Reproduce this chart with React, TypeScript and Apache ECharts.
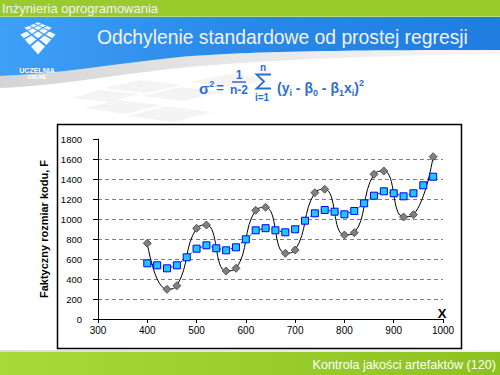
import React, { useEffect, useRef } from "react";
import * as echarts from "echarts";

// ---- data ----
const actualX = [400, 440, 460, 500, 520, 560, 580, 620, 640, 680, 700, 740, 760, 800, 820, 860, 880, 920, 940, 980];
const actualY = [757, 297, 333, 907, 940, 480, 507, 1087, 1117, 657, 690, 1263, 1297, 840, 863, 1447, 1480, 1020, 1043, 1623];
const fitX = [400, 420, 440, 460, 480, 500, 520, 540, 560, 580, 600, 620, 640, 660, 680, 700, 720, 740, 760, 780, 800, 820, 840, 860, 880, 900, 920, 940, 960, 980];
const fitY = [557, 537, 507, 537, 617, 703, 737, 707, 687, 717, 797, 887, 908, 887, 867, 897, 983, 1057, 1090, 1073, 1047, 1080, 1157, 1233, 1277, 1257, 1227, 1257, 1337, 1423];
const xMin = 300, xMax = 1000, xStep = 100;
const yMin = 0, yMax = 1800, yStep = 200;

// ---- texts ----
const headerText = "Inżynieria oprogramowania";
const titleText = "Odchylenie standardowe od prostej regresji";
const footerText = "Kontrola jakości artefaktów (120)";
const yAxisName = "Faktyczny rozmiar kodu, F";
const xAxisName = "X";

const FONT = "'Liberation Sans', Arial, sans-serif";
const FORMULA = "#2d6cd4";

function logoTiles() {
  const proj = (u: number, v: number) => {
    const t = (u + v) / 8;
    const z = 1 + 2 * (1 - t);
    return [38 + ((u - v) * 11) / z, 4.5 + 52.5 / z];
  };
  const g = 0.1;
  const out: any[] = [];
  for (let i = 0; i < 4; i++) {
    for (let j = 0; j < 4; j++) {
      if ((i === 0 && j === 3) || (i === 3 && j === 0)) continue;
      const pts = [
        proj(i + g, j + g),
        proj(i + 1 - g, j + g),
        proj(i + 1 - g, j + 1 - g),
        proj(i + g, j + 1 - g),
      ];
      out.push({ type: "polygon", shape: { points: pts }, style: { fill: "#ffffff", opacity: 0.95 }, z: -70 });
    }
  }
  return out;
}

export default function App() {
  const ref = useRef<HTMLDivElement>(null);
  useEffect(() => {
    document.body.style.margin = "0";
    if (!ref.current) return;
    echarts.graphic.registerShape(
      "blueBand",
      echarts.graphic.extendPath("M0 17 L500 17 L500 50 C400 50 260 50 180 57 C120 63 60 74 0 76 Z", {})
    );
    echarts.graphic.registerShape(
      "graySwoosh",
      echarts.graphic.extendPath("M0 76 C60 74 120 63 180 57 C260 50 400 50 500 50 L500 54 C400 55 300 58 200 66 C130 72 60 86 0 88 Z", {})
    );
    const chart = echarts.init(ref.current, undefined, { renderer: "svg" });

    const faintTiles = [
      [[72, 98], [100, 90], [138, 94], [110, 102]],
      [[104, 88], [140, 80], [182, 85], [146, 93]],
      [[142, 96], [180, 87], [222, 92], [184, 101]],
      [[84, 108], [118, 100], [160, 105], [126, 114]],
      [[128, 116], [166, 106], [212, 112], [174, 122]],
      [[190, 82], [230, 74], [270, 79], [232, 88]],
    ].map((pts) => ({ type: "polygon", shape: { points: pts }, style: { fill: "#f4f4f4" }, z: -95 }));

    const graphic: any[] = [
      { type: "rect", shape: { x: 0, y: 0, width: 500, height: 375 }, style: { fill: "#ffffff" }, z: -100 },
      ...faintTiles,
      {
        type: "graySwoosh",
        style: {
          fill: { type: "linear", x: 0, y: 0, x2: 1, y2: 0, colorStops: [
            { offset: 0, color: "#d4d4d4" }, { offset: 0.5, color: "#e8e8e8" }, { offset: 1, color: "#f6f6f6" } ] },
        },
        z: -90,
      },
      {
        type: "blueBand",
        style: {
          fill: { type: "linear", x: 0, y: 0, x2: 1, y2: 0, colorStops: [
            { offset: 0, color: "#3fa0f8" }, { offset: 0.45, color: "#2a8ae8" }, { offset: 1, color: "#1f7de0" } ] },
        },
        z: -85,
      },
      { type: "rect", shape: { x: 0, y: 0, width: 500, height: 17 }, style: { fill: "#9acb2d" }, z: -80 },
      { type: "rect", shape: { x: 0, y: 16, width: 500, height: 1 }, style: { fill: "#b9dd72" }, z: -79 },
      ...logoTiles(),
      { type: "text", x: 37, y: 70, style: { text: "UCZELNIA", fill: "#ffffff", font: `bold 7px ${FONT}`, align: "center", verticalAlign: "middle" }, z: -60 },
      { type: "text", x: 37, y: 77, style: { text: "ONLINE", fill: "#ffffff", font: `bold 5px ${FONT}`, align: "center", verticalAlign: "middle" }, z: -60 },
      { type: "text", x: 2, y: 8.5, style: { text: headerText, fill: "#f4f4f4", font: `13px ${FONT}`, verticalAlign: "middle" }, z: -60 },
      { type: "text", x: 97, y: 37, style: { text: titleText, fill: "#f2f2f2", font: `19.3px ${FONT}`, verticalAlign: "middle" }, z: -60 },
      // formula
      {
        type: "text", x: 199, y: 88,
        style: {
          text: "σ{sup|2}", fill: FORMULA, font: `bold 15px ${FONT}`, verticalAlign: "middle",
          rich: { sup: { fontSize: 9, fontWeight: "bold", fill: FORMULA, verticalAlign: "top", lineHeight: 17 } },
        },
        z: -60,
      },
      { type: "text", x: 220, y: 87, style: { text: "=", fill: FORMULA, font: `bold 13px ${FONT}`, align: "center", verticalAlign: "middle" }, z: -60 },
      { type: "text", x: 239, y: 74.5, style: { text: "1", fill: FORMULA, font: `bold 12px ${FONT}`, align: "center", verticalAlign: "middle" }, z: -60 },
      { type: "line", shape: { x1: 232, y1: 82, x2: 246, y2: 82 }, style: { stroke: FORMULA, lineWidth: 1.5 }, z: -60 },
      { type: "text", x: 239, y: 89.5, style: { text: "n-2", fill: FORMULA, font: `bold 12px ${FONT}`, align: "center", verticalAlign: "middle" }, z: -60 },
      {
        type: "polyline",
        shape: { points: [[271, 74.5], [256.5, 74.5], [264, 81.5], [256.5, 88.5], [271, 88.5]] },
        style: { stroke: FORMULA, lineWidth: 1.8, fill: null, lineJoin: "miter" },
        z: -60,
      },
      { type: "text", x: 263, y: 67.5, style: { text: "n", fill: FORMULA, font: `bold 10px ${FONT}`, align: "center", verticalAlign: "middle" }, z: -60 },
      { type: "text", x: 262, y: 97.5, style: { text: "i=1", fill: FORMULA, font: `bold 10px ${FONT}`, align: "center", verticalAlign: "middle" }, z: -60 },
      {
        type: "text", x: 277, y: 88,
        style: {
          text: "(y{sub|i} - β{sub|0} - β{sub|1}x{sub|i}){sup|2}", fill: FORMULA, font: `bold 14px ${FONT}`, verticalAlign: "middle",
          rich: {
            sub: { fontSize: 9, fontWeight: "bold", fill: FORMULA, verticalAlign: "bottom", lineHeight: 19 },
            sup: { fontSize: 9, fontWeight: "bold", fill: FORMULA, verticalAlign: "top", lineHeight: 19 },
          },
        },
        z: -60,
      },
      // chart box
      { type: "rect", shape: { x: 57.5, y: 124.5, width: 404, height: 224 }, style: { fill: "#ffffff", stroke: "#000000", lineWidth: 1.5 }, z: -50 },
      // footer
      { type: "rect", shape: { x: 0, y: 350, width: 500, height: 3 }, style: { fill: { type: "linear", x: 0, y: 0, x2: 1, y2: 0, colorStops: [{ offset: 0, color: "#dcdcdc" }, { offset: 1, color: "#f4f4f4" }] } }, z: -50 },
      { type: "rect", shape: { x: 0, y: 352, width: 500, height: 23 }, style: { fill: { type: "linear", x: 0, y: 0, x2: 1, y2: 0, colorStops: [{ offset: 0, color: "#a8da3a" }, { offset: 1, color: "#8cc21f" }] } }, z: -50 },
      { type: "text", x: 496, y: 365, style: { text: footerText, fill: "#ffffff", font: `12.6px ${FONT}`, align: "right", verticalAlign: "middle" }, z: -40 },
      { type: "text", x: 442, y: 313, style: { text: xAxisName, fill: "#000000", font: `bold 13px ${FONT}`, align: "center", verticalAlign: "middle" }, z: 50 },
    ];

    const plain = (v: number) => String(v);

    chart.setOption({
      animation: false,
      graphic: { elements: graphic },
      grid: { left: 98, right: 57, top: 139, bottom: 56, containLabel: false },
      xAxis: {
        type: "value", min: xMin, max: xMax, interval: xStep,
        axisLine: { show: true, onZero: false, lineStyle: { color: "#000", width: 1 } },
        axisTick: { show: true, length: 4, lineStyle: { color: "#000" } },
        axisLabel: { margin: 6, fontSize: 10, color: "#000", fontFamily: FONT, formatter: plain },
        splitLine: { show: false },
      },
      yAxis: {
        type: "value", min: yMin, max: yMax, interval: yStep,
        name: yAxisName, nameLocation: "middle", nameGap: 36, nameRotate: 90,
        nameTextStyle: { fontSize: 11, fontWeight: "bold", color: "#000", fontFamily: FONT },
        axisLine: { show: true, lineStyle: { color: "#000", width: 1 } },
        axisTick: { show: true, length: 5, lineStyle: { color: "#000" } },
        axisLabel: { margin: 16, fontSize: 9.5, color: "#000", fontFamily: FONT, formatter: plain },
        splitLine: { show: true, showMinLine: false, showMaxLine: false, lineStyle: { color: "#808080", width: 1, type: [4, 3] } },
      },
      series: [
        {
          type: "line",
          data: actualX.map((x, i) => [x, actualY[i]]),
          smooth: 0.5,
          symbol: "diamond",
          symbolSize: 8,
          itemStyle: { color: "#808080", borderColor: "#3c3c3c", borderWidth: 0.8 },
          lineStyle: { color: "#000000", width: 1 },
          z: 3,
        },
        {
          type: "line",
          data: fitX.map((x, i) => [x, fitY[i]]),
          symbol: "rect",
          symbolSize: 7,
          itemStyle: { color: "#1ec8f8", borderColor: "#0000ff", borderWidth: 1 },
          lineStyle: { color: "#0000ff", width: 1, type: [2, 2] },
          z: 4,
        },
      ],
    });
    return () => chart.dispose();
  }, []);
  return <div ref={ref} style={{ width: 500, height: 375 }} />;
}
